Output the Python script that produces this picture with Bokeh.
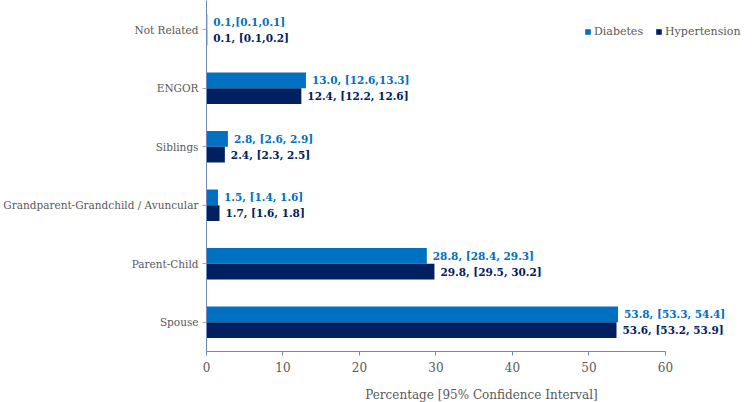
from bokeh.plotting import figure
from bokeh.models import ColumnDataSource, Legend, LegendItem
from bokeh.transform import dodge
from bokeh.core.properties import value
from bokeh.embed import file_html
from bokeh.resources import INLINE

# Relationship categories, listed bottom to top
categories = ["Spouse", "Parent-Child", "Grandparent-Grandchild / Avuncular",
              "Siblings", "ENGOR", "Not Related"]

diabetes = [53.8, 28.8, 1.5, 2.8, 13.0, 0.1]
diabetes_labels = ["53.8, [53.3, 54.4]", "28.8, [28.4, 29.3]", "1.5, [1.4, 1.6]",
                   "2.8, [2.6, 2.9]", "13.0, [12.6,13.3]", "0.1,[0.1,0.1]"]

hypertension = [53.6, 29.8, 1.7, 2.4, 12.4, 0.1]
hypertension_labels = ["53.6, [53.2, 53.9]", "29.8, [29.5, 30.2]", "1.7, [1.6, 1.8]",
                       "2.4, [2.3, 2.5]", "12.4, [12.2, 12.6]", "0.1, [0.1,0.2]"]

x_ticks = [0, 10, 20, 30, 40, 50, 60]

DIAB_COLOR = "#0070C0"
HYP_COLOR = "#002060"
FONT = "DejaVu Serif"

src = ColumnDataSource(dict(
    cat=categories,
    diab=diabetes, diab_lbl=diabetes_labels,
    hyp=hypertension, hyp_lbl=hypertension_labels,
))

p = figure(frame_width=550, frame_height=351, y_range=categories, x_range=(0, 71.9),
           output_backend="svg", toolbar_location=None,
           min_border_left=204, min_border_top=0, min_border_right=0,
           min_border_bottom=0)

bar_h = 0.27
off = bar_h / 2

r_d = p.hbar(y=dodge("cat", off, range=p.y_range), right="diab", left=0,
             height=bar_h, color=DIAB_COLOR, line_color=None, source=src)
r_h = p.hbar(y=dodge("cat", -off, range=p.y_range), right="hyp", left=0,
             height=bar_h, color=HYP_COLOR, line_color=None, source=src)

# Value labels beside each bar
p.text(x="diab", y=dodge("cat", off, range=p.y_range), text="diab_lbl",
       x_offset=6, text_baseline="middle", text_align="left",
       text_font=value(FONT), text_font_style="bold", text_font_size="10.5px",
       text_color=DIAB_COLOR, source=src)
p.text(x="hyp", y=dodge("cat", -off, range=p.y_range), text="hyp_lbl",
       x_offset=6, text_baseline="middle", text_align="left",
       text_font=value(FONT), text_font_style="bold", text_font_size="10.5px",
       text_color=HYP_COLOR, source=src)

# Axes styling
p.xgrid.grid_line_color = None
p.ygrid.grid_line_color = None
p.outline_line_color = None

p.xaxis.ticker = x_ticks
p.xaxis.bounds = (0, 60)
p.xaxis.axis_label = "Percentage [95% Confidence Interval]"
p.xaxis.axis_label_text_font = FONT
p.xaxis.axis_label_text_font_style = "normal"
p.xaxis.axis_label_text_font_size = "12px"
p.xaxis.axis_label_text_color = "#595959"
p.xaxis.axis_label_standoff = 13
p.xaxis.minor_tick_line_color = None
p.xaxis.major_tick_in = 0
p.xaxis.major_tick_out = 4
p.xaxis.major_label_standoff = 6
p.xaxis.major_label_text_font_size = "12px"

p.yaxis.major_tick_in = 0
p.yaxis.major_tick_out = 4
p.yaxis.major_label_standoff = 4
p.yaxis.major_label_text_font_size = "10.5px"

for ax in (p.xaxis, p.yaxis):
    ax.axis_line_color = "#6F87BA"
    ax.major_tick_line_color = "#A0A0A0"
    ax.major_label_text_font = FONT
    ax.major_label_text_color = "#595959"
p.xaxis.major_tick_line_color = "#6F87BA"

legend = Legend(items=[LegendItem(label="Diabetes", renderers=[r_d]),
                       LegendItem(label="Hypertension", renderers=[r_h])],
                orientation="horizontal",
                border_line_color=None, background_fill_alpha=0,
                label_text_font=FONT, label_text_font_size="11px",
                label_text_color="#595959", glyph_width=7, glyph_height=7,
                spacing=12, label_standoff=3, padding=0, margin=0)
legend.location = (378, 313)
p.add_layout(legend)

open("out.html", "w").write(file_html(p, INLINE))
